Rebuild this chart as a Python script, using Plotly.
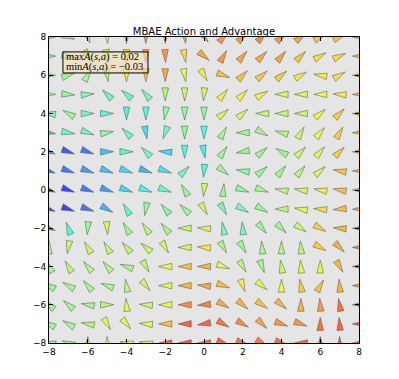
import numpy as np
import plotly.graph_objects as go

# Grid of states, one arrow per cell; rows go from y=8 (top) to y=-8 (bottom).
X_VALUES = list(range(-8, 9))
Y_VALUES = list(range(8, -9, -1))
TICKS = [-8, -6, -4, -2, 0, 2, 4, 6, 8]

# Direction of the greedy action, degrees (0 = right, 90 = up).
ACTION_ANGLE = [
    [0, -20, -70, -85, -90, -90, -90, -80, -50, 50, 45, 45, 45, 40, 30, 25, 180],
    [0, -10, -60, -80, -90, -90, -88, -80, -40, 60, 50, 45, 50, 45, 30, 25, 180],
    [0, 20, 60, -80, -90, -90, -90, -80, -60, -20, 45, 40, 40, 30, 170, 30, 180],
    [0, -5, 5, 135, 140, 130, -90, -90, -95, 50, 45, 30, 180, 180, 180, 175, 180],
    [170, 150, 0, 0, -90, -90, -100, -90, -90, 40, 40, 180, 180, 180, 40, 45, 180],
    [-10, -10, -20, 10, 135, -80, -110, -90, -90, 60, 180, -30, 165, 60, 50, 60, 180],
    [-20, -20, -20, 0, 0, 135, 175, -90, -80, 55, 190, 40, 150, 45, 50, 45, 180],
    [-20, -20, -20, -20, -20, -20, -20, 45, -95, -40, 170, 40, 50, 50, 40, 170, 180],
    [-20, -20, -20, -20, -20, -20, -20, 120, -95, 85, -20, -20, 170, 170, 170, 170, 180],
    [-20, -20, -20, -30, 120, -100, 130, 135, -60, -60, -30, -30, 180, 170, 175, 185, 180],
    [-20, 110, -95, -85, 120, 125, 130, 180, 175, 100, 95, -50, -45, -35, -30, 175, 180],
    [90, -100, 120, 120, 130, 140, -60, 180, 175, -60, -60, 95, 90, 95, -30, -45, 180],
    [120, 120, 130, 130, 160, -60, 180, 180, 180, -20, -60, -70, 100, 95, 90, -60, 180],
    [150, 150, 130, 160, 100, -50, 180, 180, 175, -20, -70, -40, 90, 100, 60, 95, 180],
    [140, 140, 170, 0, 95, 175, 180, 180, 185, -30, -40, -35, -40, 90, 95, 100, 180],
    [150, 150, 170, -60, -50, 175, 180, 180, 190, -30, -30, -45, -20, -20, 90, 95, 180],
    [170, 160, 90, 90, 170, 170, 180, 180, 180, -20, -20, -30, -20, 180, 90, 90, 180],
]

# Advantage of that action, as a 0..1 position on the jet colour map.
ADVANTAGE_LEVEL = [
    [0.50, 0.50, 0.55, 0.62, 0.72, 0.78, 0.78, 0.75, 0.78, 0.78, 0.78, 0.80, 0.78, 0.76, 0.72, 0.72, 0.75],
    [0.45, 0.50, 0.55, 0.60, 0.68, 0.76, 0.78, 0.68, 0.76, 0.78, 0.76, 0.76, 0.76, 0.72, 0.68, 0.68, 0.75],
    [0.50, 0.50, 0.52, 0.55, 0.65, 0.72, 0.76, 0.62, 0.66, 0.72, 0.72, 0.70, 0.70, 0.66, 0.66, 0.68, 0.75],
    [0.55, 0.48, 0.45, 0.42, 0.42, 0.45, 0.55, 0.58, 0.60, 0.65, 0.65, 0.65, 0.60, 0.60, 0.64, 0.66, 0.75],
    [0.45, 0.50, 0.42, 0.38, 0.37, 0.38, 0.48, 0.50, 0.48, 0.60, 0.60, 0.58, 0.58, 0.58, 0.64, 0.70, 0.75],
    [0.30, 0.42, 0.44, 0.48, 0.42, 0.34, 0.44, 0.50, 0.38, 0.52, 0.52, 0.52, 0.54, 0.58, 0.64, 0.70, 0.75],
    [0.25, 0.15, 0.20, 0.30, 0.40, 0.44, 0.33, 0.38, 0.36, 0.50, 0.50, 0.50, 0.50, 0.58, 0.62, 0.70, 0.75],
    [0.20, 0.20, 0.25, 0.30, 0.33, 0.28, 0.35, 0.44, 0.38, 0.50, 0.48, 0.50, 0.52, 0.55, 0.60, 0.72, 0.75],
    [0.12, 0.12, 0.20, 0.25, 0.33, 0.37, 0.42, 0.50, 0.58, 0.50, 0.48, 0.52, 0.56, 0.60, 0.66, 0.72, 0.76],
    [0.15, 0.12, 0.20, 0.28, 0.40, 0.50, 0.48, 0.50, 0.58, 0.44, 0.46, 0.50, 0.56, 0.62, 0.68, 0.72, 0.76],
    [0.25, 0.38, 0.50, 0.60, 0.50, 0.56, 0.52, 0.58, 0.60, 0.44, 0.44, 0.50, 0.52, 0.58, 0.70, 0.74, 0.80],
    [0.52, 0.58, 0.58, 0.58, 0.56, 0.58, 0.58, 0.60, 0.66, 0.52, 0.50, 0.52, 0.54, 0.56, 0.70, 0.75, 0.82],
    [0.50, 0.56, 0.54, 0.54, 0.52, 0.56, 0.64, 0.72, 0.74, 0.62, 0.56, 0.52, 0.58, 0.62, 0.64, 0.74, 0.82],
    [0.50, 0.52, 0.52, 0.52, 0.55, 0.58, 0.62, 0.74, 0.76, 0.72, 0.66, 0.64, 0.64, 0.70, 0.72, 0.74, 0.80],
    [0.50, 0.52, 0.52, 0.55, 0.62, 0.58, 0.64, 0.80, 0.82, 0.76, 0.74, 0.72, 0.74, 0.74, 0.78, 0.84, 0.86],
    [0.50, 0.52, 0.54, 0.60, 0.62, 0.62, 0.72, 0.86, 0.86, 0.84, 0.80, 0.76, 0.78, 0.78, 0.84, 0.86, 0.88],
    [0.50, 0.52, 0.60, 0.62, 0.64, 0.66, 0.86, 0.88, 0.86, 0.86, 0.84, 0.82, 0.84, 0.86, 0.86, 0.88, 0.88],
]

MAX_ADV = "0.02"
MIN_ADV = "\u22120.03"

ARROW_LEN = 0.68
ARROW_WIDTH = 0.34
ALPHA = 0.7


def mpl_jet(level):
    """matplotlib's jet map, so the colours match the original figure."""
    r = np.interp(level, [0, 0.35, 0.66, 0.89, 1], [0, 0, 1, 1, 0.5])
    g = np.interp(level, [0, 0.125, 0.375, 0.64, 0.91, 1], [0, 0, 1, 1, 0, 0])
    b = np.interp(level, [0, 0.11, 0.34, 0.65, 1], [0.5, 1, 1, 0, 0])
    return f"rgba({r * 255:.0f},{g * 255:.0f},{b * 255:.0f},{ALPHA})"


fig = go.Figure()

# quiver-style heads with pivot in the middle of each cell
for row, y0 in enumerate(Y_VALUES):
    for col, x0 in enumerate(X_VALUES):
        theta = np.deg2rad(ACTION_ANGLE[row][col])
        d = np.array([np.cos(theta), np.sin(theta)])
        n = np.array([-d[1], d[0]])
        centre = np.array([x0, y0], dtype=float)
        tip = centre + d * ARROW_LEN / 2
        back = centre - d * ARROW_LEN / 2
        left = back + n * ARROW_WIDTH / 2
        right = back - n * ARROW_WIDTH / 2
        pts = np.array([tip, left, right, tip])
        fig.add_trace(
            go.Scatter(
                x=pts[:, 0],
                y=pts[:, 1],
                mode="lines",
                fill="toself",
                fillcolor=mpl_jet(ADVANTAGE_LEVEL[row][col]),
                line=dict(color="rgba(70,70,70,0.8)", width=0.6),
                hoverinfo="skip",
                showlegend=False,
            )
        )

# text box in the top-left corner (wheat, semi transparent)
fig.add_shape(
    type="rect",
    x0=-7.28, x1=-2.89, y0=6.12, y1=7.22,
    xref="x", yref="y",
    fillcolor="rgba(245,222,179,0.6)",
    line=dict(color="black", width=1),
)
for text, y_text in [
    (f"max<i>A</i>(<i>s</i>,<i>a</i>) = {MAX_ADV}", 6.93),
    (f"min<i>A</i>(<i>s</i>,<i>a</i>) = {MIN_ADV}", 6.42),
]:
    fig.add_annotation(
        x=-7.12, y=y_text, xref="x", yref="y",
        xanchor="left", yanchor="middle", align="left", showarrow=False,
        borderpad=0, borderwidth=0,
        text=text,
        font=dict(family="Liberation Serif", size=10.5, color="black"),
    )

axis_style = dict(
    range=[-8, 8],
    tickvals=TICKS,
    ticktext=[str(t).replace("-", "\u2212") for t in TICKS],
    showgrid=False,
    zeroline=False,
    showline=True,
    linecolor="black",
    linewidth=1,
    mirror="ticks",
    ticks="inside",
    ticklen=4,
    tickcolor="black",
    tickfont=dict(family="DejaVu Sans", size=9, color="black"),
)

# the page body adds an 8px margin, so the figure is 8px smaller each way
fig.update_layout(
    width=391,
    height=371,
    margin=dict(l=41, r=40, t=29, b=36),
    paper_bgcolor="white",
    plot_bgcolor="#e5e5e5",
    title=dict(
        text="MBAE Action and Advantage",
        x=0.5,
        xref="paper",
        xanchor="center",
        y=1 - 23 / 371,
        yanchor="middle",
        font=dict(family="DejaVu Sans", size=10, color="black"),
    ),
)
fig.update_xaxes(**axis_style)
fig.update_yaxes(**axis_style)

fig.write_html("out.html")
